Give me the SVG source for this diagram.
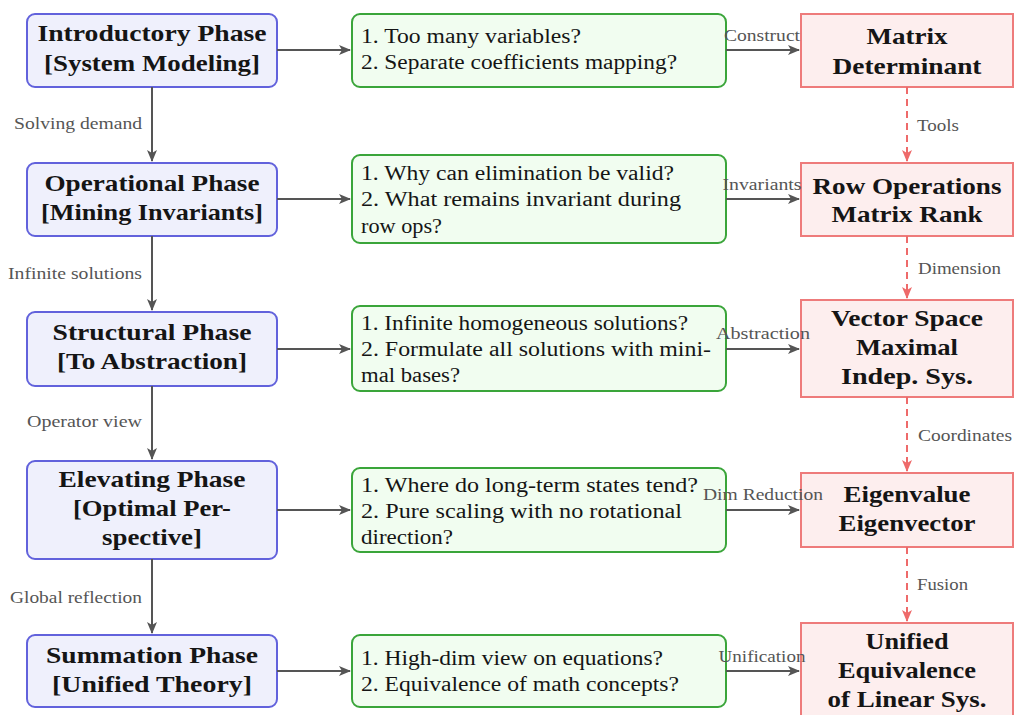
<svg xmlns="http://www.w3.org/2000/svg" width="1014" height="715" viewBox="0 0 1014 715">
<style>
.bl{fill:#eff0fc;stroke:#6262dc;stroke-width:2}
.gr{fill:#f1fdf0;stroke:#3aa53a;stroke-width:2}
.rd{fill:#fdeeee;stroke:#ee7b7b;stroke-width:2}
.t{font-weight:bold;font-size:24px;fill:#151515;text-anchor:middle}
.q{font-size:20px;fill:#151515}
.l{font-size:16px;fill:#555}
.lc{text-anchor:middle}
.le{text-anchor:end}
.a{stroke:#555;stroke-width:2;fill:none;marker-end:url(#ah)}
.d{stroke:#ee6a6a;stroke-width:2;fill:none;stroke-dasharray:7,5;marker-end:url(#ahr)}
</style>
<defs>
<marker id="ah" markerWidth="12" markerHeight="10" refX="11" refY="5" orient="auto" markerUnits="userSpaceOnUse"><path d="M0,0 L12,5 L0,10 L3,5 Z" fill="#555"/></marker>
<marker id="ahr" markerWidth="12" markerHeight="10" refX="11" refY="5" orient="auto" markerUnits="userSpaceOnUse"><path d="M0,0 L12,5 L0,10 L3,5 Z" fill="#ee6a6a"/></marker>
</defs>
<rect width="1014" height="715" fill="#fff"/>
<g id="n1"><rect class="bl" x="27" y="14" width="250" height="73" rx="8"/><text class="t" style="font-family:'Liberation Serif',serif" x="152" y="41" textLength="229" lengthAdjust="spacingAndGlyphs">Introductory Phase</text><text class="t" style="font-family:'Liberation Serif',serif" x="152" y="71" textLength="216" lengthAdjust="spacingAndGlyphs">[System Modeling]</text></g>
<g id="n2"><rect class="bl" x="27" y="163" width="250" height="73" rx="8"/><text class="t" style="font-family:'Liberation Serif',serif" x="152" y="191" textLength="215" lengthAdjust="spacingAndGlyphs">Operational Phase</text><text class="t" style="font-family:'Liberation Serif',serif" x="152" y="220" textLength="222" lengthAdjust="spacingAndGlyphs">[Mining Invariants]</text></g>
<g id="n3"><rect class="bl" x="27" y="312" width="250" height="74" rx="8"/><text class="t" style="font-family:'Liberation Serif',serif" x="152" y="340" textLength="199" lengthAdjust="spacingAndGlyphs">Structural Phase</text><text class="t" style="font-family:'Liberation Serif',serif" x="152" y="369" textLength="190" lengthAdjust="spacingAndGlyphs">[To Abstraction]</text></g>
<g id="n4"><rect class="bl" x="27" y="461" width="250" height="98" rx="8"/><text class="t" style="font-family:'Liberation Serif',serif" x="152" y="487" textLength="187" lengthAdjust="spacingAndGlyphs">Elevating Phase</text><text class="t" style="font-family:'Liberation Serif',serif" x="152" y="516" textLength="158" lengthAdjust="spacingAndGlyphs">[Optimal Per-</text><text class="t" style="font-family:'Liberation Serif',serif" x="152" y="545" textLength="100" lengthAdjust="spacingAndGlyphs">spective]</text></g>
<g id="n5"><rect class="bl" x="27" y="635" width="250" height="72" rx="8"/><text class="t" style="font-family:'Liberation Serif',serif" x="152" y="663" textLength="212" lengthAdjust="spacingAndGlyphs">Summation Phase</text><text class="t" style="font-family:'Liberation Serif',serif" x="152" y="692" textLength="200" lengthAdjust="spacingAndGlyphs">[Unified Theory]</text></g>
<g id="q1"><rect class="gr" x="352" y="14" width="374" height="73" rx="8"/><text class="q" style="font-family:'Liberation Serif',serif" x="361" y="43" textLength="220" lengthAdjust="spacingAndGlyphs">1.  Too many variables?</text><text class="q" style="font-family:'Liberation Serif',serif" x="361" y="69" textLength="316" lengthAdjust="spacingAndGlyphs">2.  Separate coefficients mapping?</text></g>
<g id="q2"><rect class="gr" x="352" y="155" width="374" height="88" rx="8"/><text class="q" style="font-family:'Liberation Serif',serif" x="361" y="180" textLength="313" lengthAdjust="spacingAndGlyphs">1.  Why can elimination be valid?</text><text class="q" style="font-family:'Liberation Serif',serif" x="361" y="206" textLength="320" lengthAdjust="spacingAndGlyphs">2.  What remains invariant during</text><text class="q" style="font-family:'Liberation Serif',serif" x="361" y="233" textLength="81" lengthAdjust="spacingAndGlyphs">row ops?</text></g>
<g id="q3"><rect class="gr" x="352" y="306" width="374" height="85" rx="8"/><text class="q" style="font-family:'Liberation Serif',serif" x="361" y="330" textLength="327" lengthAdjust="spacingAndGlyphs">1.  Infinite homogeneous solutions?</text><text class="q" style="font-family:'Liberation Serif',serif" x="361" y="356" textLength="350" lengthAdjust="spacingAndGlyphs">2.  Formulate all solutions with mini-</text><text class="q" style="font-family:'Liberation Serif',serif" x="361" y="382" textLength="99" lengthAdjust="spacingAndGlyphs">mal bases?</text></g>
<g id="q4"><rect class="gr" x="352" y="468" width="374" height="84" rx="8"/><text class="q" style="font-family:'Liberation Serif',serif" x="361" y="492" textLength="337" lengthAdjust="spacingAndGlyphs">1.  Where do long-term states tend?</text><text class="q" style="font-family:'Liberation Serif',serif" x="361" y="518" textLength="321" lengthAdjust="spacingAndGlyphs">2.  Pure scaling with no rotational</text><text class="q" style="font-family:'Liberation Serif',serif" x="361" y="544" textLength="92" lengthAdjust="spacingAndGlyphs">direction?</text></g>
<g id="q5"><rect class="gr" x="352" y="635" width="374" height="72" rx="8"/><text class="q" style="font-family:'Liberation Serif',serif" x="361" y="665" textLength="302" lengthAdjust="spacingAndGlyphs">1.  High-dim view on equations?</text><text class="q" style="font-family:'Liberation Serif',serif" x="361" y="691" textLength="318" lengthAdjust="spacingAndGlyphs">2.  Equivalence of math concepts?</text></g>
<g id="c1"><rect class="rd" x="801" y="14" width="212" height="73"/><text class="t" style="font-family:'Liberation Serif',serif" x="907" y="44" textLength="81" lengthAdjust="spacingAndGlyphs">Matrix</text><text class="t" style="font-family:'Liberation Serif',serif" x="907" y="74" textLength="149" lengthAdjust="spacingAndGlyphs">Determinant</text></g>
<g id="c2"><rect class="rd" x="801" y="163" width="212" height="73"/><text class="t" style="font-family:'Liberation Serif',serif" x="907" y="194" textLength="189" lengthAdjust="spacingAndGlyphs">Row Operations</text><text class="t" style="font-family:'Liberation Serif',serif" x="907" y="222" textLength="151" lengthAdjust="spacingAndGlyphs">Matrix Rank</text></g>
<g id="c3"><rect class="rd" x="801" y="300" width="212" height="97"/><text class="t" style="font-family:'Liberation Serif',serif" x="907" y="326" textLength="152" lengthAdjust="spacingAndGlyphs">Vector Space</text><text class="t" style="font-family:'Liberation Serif',serif" x="907" y="355" textLength="102" lengthAdjust="spacingAndGlyphs">Maximal</text><text class="t" style="font-family:'Liberation Serif',serif" x="907" y="384" textLength="132" lengthAdjust="spacingAndGlyphs">Indep. Sys.</text></g>
<g id="c4"><rect class="rd" x="801" y="473" width="212" height="74"/><text class="t" style="font-family:'Liberation Serif',serif" x="907" y="502" textLength="127" lengthAdjust="spacingAndGlyphs">Eigenvalue</text><text class="t" style="font-family:'Liberation Serif',serif" x="907" y="531" textLength="137" lengthAdjust="spacingAndGlyphs">Eigenvector</text></g>
<g id="c5"><rect class="rd" x="801" y="623" width="212" height="100"/><text class="t" style="font-family:'Liberation Serif',serif" x="907" y="649" textLength="83" lengthAdjust="spacingAndGlyphs">Unified</text><text class="t" style="font-family:'Liberation Serif',serif" x="907" y="678" textLength="138" lengthAdjust="spacingAndGlyphs">Equivalence</text><text class="t" style="font-family:'Liberation Serif',serif" x="907" y="707" textLength="159" lengthAdjust="spacingAndGlyphs">of Linear Sys.</text></g>
<g id="connectors">
<path class="a" d="M152,87 V161"/>
<path class="a" d="M152,236 V310"/>
<path class="a" d="M152,386 V459"/>
<path class="a" d="M152,559 V633"/>
<path class="a" d="M277,50 H350"/>
<path class="a" d="M277,199 H350"/>
<path class="a" d="M277,349 H350"/>
<path class="a" d="M277,510 H350"/>
<path class="a" d="M277,671 H350"/>
<path class="a" d="M726,50 H799"/>
<path class="a" d="M726,199 H799"/>
<path class="a" d="M726,349 H799"/>
<path class="a" d="M726,510 H799"/>
<path class="a" d="M726,671 H799"/>
<path class="d" d="M907,87 V161"/>
<path class="d" d="M907,236 V298"/>
<path class="d" d="M907,397 V471"/>
<path class="d" d="M907,547 V621"/>
<text class="l le" style="font-family:'Liberation Serif',serif" x="142" y="129" textLength="128" lengthAdjust="spacingAndGlyphs">Solving demand</text>
<text class="l le" style="font-family:'Liberation Serif',serif" x="142" y="279" textLength="134" lengthAdjust="spacingAndGlyphs">Infinite solutions</text>
<text class="l le" style="font-family:'Liberation Serif',serif" x="142" y="427" textLength="115" lengthAdjust="spacingAndGlyphs">Operator view</text>
<text class="l le" style="font-family:'Liberation Serif',serif" x="142" y="603" textLength="132" lengthAdjust="spacingAndGlyphs">Global reflection</text>
<text class="l lc" style="font-family:'Liberation Serif',serif" x="762" y="41" textLength="76" lengthAdjust="spacingAndGlyphs">Construct</text>
<text class="l lc" style="font-family:'Liberation Serif',serif" x="762" y="190" textLength="79" lengthAdjust="spacingAndGlyphs">Invariants</text>
<text class="l lc" style="font-family:'Liberation Serif',serif" x="763" y="339" textLength="94" lengthAdjust="spacingAndGlyphs">Abstraction</text>
<text class="l lc" style="font-family:'Liberation Serif',serif" x="763" y="500" textLength="120" lengthAdjust="spacingAndGlyphs">Dim Reduction</text>
<text class="l lc" style="font-family:'Liberation Serif',serif" x="762" y="662" textLength="87" lengthAdjust="spacingAndGlyphs">Unification</text>
<text class="l" style="font-family:'Liberation Serif',serif" x="917" y="131" textLength="42" lengthAdjust="spacingAndGlyphs">Tools</text>
<text class="l" style="font-family:'Liberation Serif',serif" x="918" y="274" textLength="83" lengthAdjust="spacingAndGlyphs">Dimension</text>
<text class="l" style="font-family:'Liberation Serif',serif" x="918" y="441" textLength="94" lengthAdjust="spacingAndGlyphs">Coordinates</text>
<text class="l" style="font-family:'Liberation Serif',serif" x="917" y="590" textLength="51" lengthAdjust="spacingAndGlyphs">Fusion</text>
</g>
</svg>
